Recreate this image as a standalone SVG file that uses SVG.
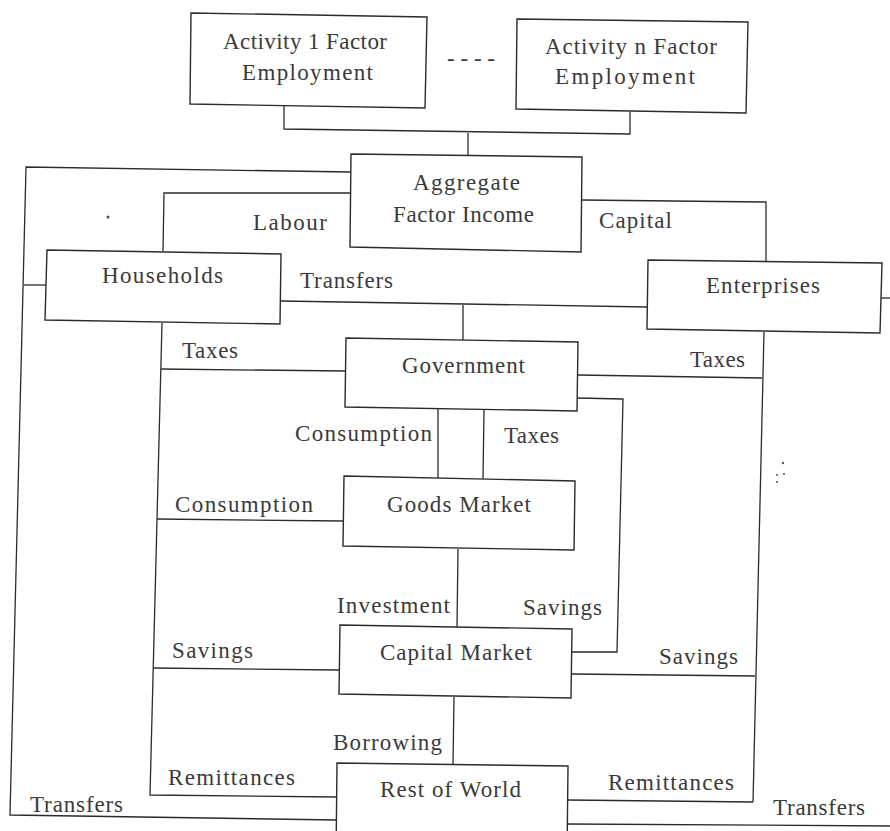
<svg xmlns="http://www.w3.org/2000/svg" width="890" height="831" viewBox="0 0 890 831">
<style>
.box{fill:#fff;stroke:#2b2b2b;stroke-width:1.4}
.ln{fill:none;stroke:#2b2b2b;stroke-width:1.3}
text{font-family:"Liberation Serif","Times New Roman",serif;font-size:23px;fill:#3a3a3a}
.dot{fill:#555}
</style>
<rect x="0" y="0" width="890" height="831" fill="#fff"/>
<g id="connectors">
<polyline class="ln" points="284,106 284,129 630,134 630,112"/>
<line class="ln" x1="468" y1="133" x2="468" y2="156"/>
<polyline class="ln" points="351,172 26,167 10,815 336,820"/>
<line class="ln" x1="24" y1="285" x2="46" y2="285"/>
<polyline class="ln" points="351,193 164,193 163,251"/>
<polyline class="ln" points="582,200 766,202 766,262"/>
<line class="ln" x1="281" y1="301" x2="647" y2="307"/>
<line class="ln" x1="463" y1="305" x2="463" y2="340"/>
<line class="ln" x1="881" y1="298" x2="890" y2="298"/>
<polyline class="ln" points="162,323 150,795 336,797"/>
<line class="ln" x1="161" y1="369" x2="346" y2="371"/>
<line class="ln" x1="157" y1="519" x2="343" y2="521"/>
<line class="ln" x1="153" y1="668" x2="339" y2="670"/>
<line class="ln" x1="578" y1="375" x2="762" y2="378"/>
<line class="ln" x1="764" y1="332" x2="753" y2="802"/>
<polyline class="ln" points="577,398 623,399 617,652 571,652"/>
<line class="ln" x1="438" y1="409" x2="438" y2="478"/>
<line class="ln" x1="484" y1="410" x2="483" y2="479"/>
<line class="ln" x1="458" y1="549" x2="457" y2="627"/>
<line class="ln" x1="572" y1="674" x2="755" y2="676"/>
<line class="ln" x1="454" y1="697" x2="453" y2="765"/>
<line class="ln" x1="568" y1="800" x2="753" y2="802"/>
<line class="ln" x1="567" y1="824" x2="890" y2="826"/>
</g>
<g id="act1">
<path class="box" d="M191,13 L427,17 L425,108 L190,104 Z"/>
<text x="223" y="49" textLength="164" lengthAdjust="spacing">Activity 1 Factor</text>
<text x="242" y="80" textLength="131" lengthAdjust="spacing">Employment</text>
</g>
<text x="447" y="66" textLength="48" lengthAdjust="spacing">- - - -</text>
<g id="actn">
<path class="box" d="M517,19 L748,22 L746,113 L516,109 Z"/>
<text x="545" y="54" textLength="172" lengthAdjust="spacing">Activity n Factor</text>
<text x="555" y="84" textLength="140" lengthAdjust="spacing">Employment</text>
</g>
<g id="aggregate">
<path class="box" d="M351,154 L582,157 L581,252 L350,247 Z"/>
<text x="413" y="190" textLength="107" lengthAdjust="spacing">Aggregate</text>
<text x="393" y="222" textLength="141" lengthAdjust="spacing">Factor Income</text>
</g>
<g id="households">
<path class="box" d="M47,250 L281,254 L280,324 L45,320 Z"/>
<text x="102" y="283" textLength="121" lengthAdjust="spacing">Households</text>
</g>
<g id="enterprises">
<path class="box" d="M648,260 L882,263 L880,333 L647,329 Z"/>
<text x="706" y="293" textLength="114" lengthAdjust="spacing">Enterprises</text>
</g>
<g id="government">
<path class="box" d="M346,338 L578,342 L577,411 L345,407 Z"/>
<text x="402" y="373" textLength="123" lengthAdjust="spacing">Government</text>
</g>
<g id="goods">
<path class="box" d="M344,476 L575,481 L574,550 L343,546 Z"/>
<text x="387" y="512" textLength="144" lengthAdjust="spacing">Goods Market</text>
</g>
<g id="capital">
<path class="box" d="M340,625 L572,629 L571,698 L339,694 Z"/>
<text x="380" y="660" textLength="152" lengthAdjust="spacing">Capital Market</text>
</g>
<g id="row">
<path class="box" d="M336,860 L337,763 L568,766 L567,860"/>
<text x="380" y="797" textLength="141" lengthAdjust="spacing">Rest of World</text>
</g>
<g id="labels">
<text x="253" y="230" textLength="74" lengthAdjust="spacing">Labour</text>
<text x="599" y="228" textLength="73" lengthAdjust="spacing">Capital</text>
<text x="300" y="288" textLength="93" lengthAdjust="spacing">Transfers</text>
<text x="182" y="358" textLength="56" lengthAdjust="spacing">Taxes</text>
<text x="690" y="367" textLength="55" lengthAdjust="spacing">Taxes</text>
<text x="295" y="441" textLength="137" lengthAdjust="spacing">Consumption</text>
<text x="504" y="443" textLength="55" lengthAdjust="spacing">Taxes</text>
<text x="175" y="512" textLength="138" lengthAdjust="spacing">Consumption</text>
<text x="337" y="613" textLength="113" lengthAdjust="spacing">Investment</text>
<text x="523" y="615" textLength="79" lengthAdjust="spacing">Savings</text>
<text x="172" y="658" textLength="81" lengthAdjust="spacing">Savings</text>
<text x="659" y="664" textLength="79" lengthAdjust="spacing">Savings</text>
<text x="333" y="750" textLength="109" lengthAdjust="spacing">Borrowing</text>
<text x="168" y="785" textLength="127" lengthAdjust="spacing">Remittances</text>
<text x="608" y="790" textLength="126" lengthAdjust="spacing">Remittances</text>
<text x="30" y="812" textLength="93" lengthAdjust="spacing">Transfers</text>
<text x="773" y="815" textLength="92" lengthAdjust="spacing">Transfers</text>
</g>
<g id="marks">
<circle class="dot" cx="108" cy="217" r="1.6"/>
<circle class="dot" cx="783" cy="463" r="1.2"/>
<circle class="dot" cx="777" cy="475" r="1"/>
<circle class="dot" cx="784" cy="474" r="1"/>
<circle class="dot" cx="777" cy="482" r="1"/>
</g>
</svg>
